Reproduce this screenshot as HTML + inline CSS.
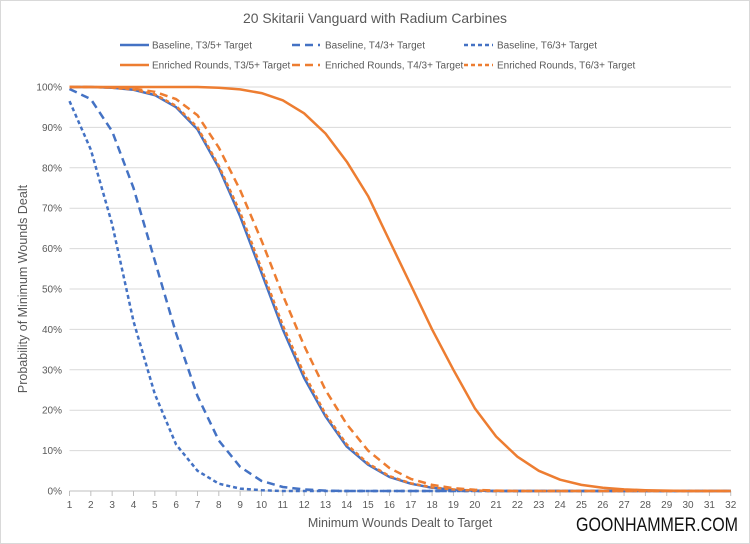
<!DOCTYPE html>
<html><head><meta charset="utf-8"><style>
html,body{margin:0;padding:0;background:#fff;}
svg{display:block;font-family:"Liberation Sans",sans-serif;}
</style></head><body>
<svg id="c" width="750" height="544" viewBox="0 0 750 544" xmlns="http://www.w3.org/2000/svg">
<rect x="0.5" y="0.5" width="749" height="543" fill="#fff" stroke="#d9d9d9"/>
<text x="375" y="23" text-anchor="middle" font-size="14" fill="#595959" textLength="264" lengthAdjust="spacingAndGlyphs">20 Skitarii Vanguard with Radium Carbines</text>
<g font-size="10" fill="#595959">
<line x1="120" y1="45" x2="149" y2="45" stroke="#4472C4" stroke-width="2.5"/><text x="152" y="48.5">Baseline, T3/5+ Target</text>
<line x1="292" y1="45" x2="320" y2="45" stroke="#4472C4" stroke-width="2.5" stroke-dasharray="8,5"/><text x="325" y="48.5">Baseline, T4/3+ Target</text>
<line x1="464" y1="45" x2="493" y2="45" stroke="#4472C4" stroke-width="2.5" stroke-dasharray="4,3"/><text x="497" y="48.5">Baseline, T6/3+ Target</text>
<line x1="120" y1="65" x2="149" y2="65" stroke="#ED7D31" stroke-width="2.5"/><text x="152" y="68.5">Enriched Rounds, T3/5+ Target</text>
<line x1="292" y1="65" x2="320" y2="65" stroke="#ED7D31" stroke-width="2.5" stroke-dasharray="8,5"/><text x="325" y="68.5">Enriched Rounds, T4/3+ Target</text>
<line x1="464" y1="65" x2="493" y2="65" stroke="#ED7D31" stroke-width="2.5" stroke-dasharray="4,3"/><text x="497" y="68.5">Enriched Rounds, T6/3+ Target</text>
</g>
<g id="grid"></g>
<g id="series" fill="none" stroke-width="2.5"></g>
<text transform="translate(27,289) rotate(-90)" text-anchor="middle" font-size="12.5" fill="#595959">Probability of Minimum Wounds Dealt</text>
<text x="400" y="527" text-anchor="middle" font-size="12.5" fill="#595959">Minimum Wounds Dealt to Target</text>
<text x="576" y="531" font-size="19" fill="#111" textLength="162" lengthAdjust="spacingAndGlyphs">GOONHAMMER.COM</text>
</svg>
<script>
var NS="http://www.w3.org/2000/svg";
function X(i){return 69.5+(i-1)*21.33;}
function Y(v){return 491-v*4.04;}
var g=document.getElementById('grid');
function el(p,t,a,txt){var e=document.createElementNS(NS,t);for(var k in a)e.setAttribute(k,a[k]);if(txt!=null)e.textContent=txt;p.appendChild(e);return e;}
for(var v=0;v<=100;v+=10){
 el(g,'line',{x1:69.5,x2:731,y1:Y(v),y2:Y(v),stroke:v==0?'#bfbfbf':'#d9d9d9','stroke-width':1});
 el(g,'text',{x:62,y:Y(v)+3.5,'text-anchor':'end','font-size':10,fill:'#595959'},v+'%');
}
for(var i=1;i<=32;i++){
 el(g,'line',{x1:X(i),x2:X(i),y1:491,y2:496,stroke:'#bfbfbf'});
 el(g,'text',{x:X(i),y:508,'text-anchor':'middle','font-size':10,fill:'#595959'},i);
}
function pad(a){while(a.length<32)a.push(0);return a;}
var S=[
 [pad([100,100,99.8,99.3,98,95,89.5,80,68,54,40,28,18.5,11,6.5,3.5,1.8,0.8,0.3,0.1]),'#4472C4',''],
 [pad([99.5,97,89,75,57,39,23.5,12.5,6,2.5,1,0.4,0.1]),'#4472C4','8,5'],
 [pad([96.5,84.5,66,42,24,11.5,5,1.8,0.6,0.2]),'#4472C4','4,3'],
 [pad([100,100,100,100,100,100,100,99.8,99.4,98.5,96.7,93.5,88.5,81.5,73,62,51,40,30,20.5,13.5,8.5,5,2.8,1.5,0.8,0.4,0.2,0.1]),'#ED7D31',''],
 [pad([100,100,99.9,99.6,98.8,97,93,85,74.5,62,48.5,36,25,16.5,10,5.7,3,1.5,0.7,0.3,0.1]),'#ED7D31','8,5'],
 [pad([100,100,99.8,99.4,98.2,95.3,90,80.5,69,55,41,29,19,11.5,6.8,3.7,1.9,0.9,0.4,0.1]),'#ED7D31','4,3']
];
var s=document.getElementById('series');
S.forEach(function(q){
 var d=q[0].map(function(v,i){return (i?'L':'M')+X(i+1).toFixed(1)+' '+Y(v).toFixed(1);}).join(' ');
 var a={d:d,stroke:q[1],'stroke-linejoin':'round'};if(q[2])a['stroke-dasharray']=q[2];
 el(s,'path',a);
});
</script>
</body></html>
